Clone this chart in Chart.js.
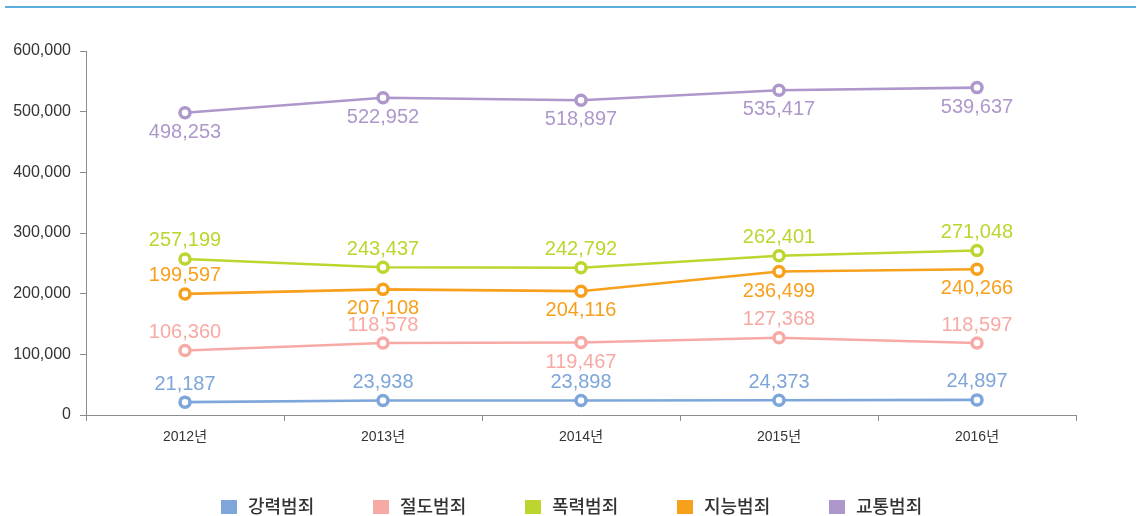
<!DOCTYPE html>
<html><head><meta charset="utf-8">
<script src="https://cdn.jsdelivr.net/npm/chart.js@4"></script>
<style>
html,body{margin:0;padding:0;background:#fff;}
#wrap{position:relative;width:1140px;height:516px;overflow:hidden;}
#topline{position:absolute;left:5px;top:6px;width:1131px;height:2px;background:#5aaee0;}
canvas{position:absolute;left:0;top:0;}
</style>
</head><body>
<div id="wrap"><div id="topline"></div><canvas id="c" width="1140" height="516"></canvas></div>
<script>
// ---- data ----
const categories = ['2012년', '2013년', '2014년', '2015년', '2016년'];
const seriesNames = ['강력범죄', '절도범죄', '폭력범죄', '지능범죄', '교통범죄'];
const violentCrime = [21187, 23938, 23898, 24373, 24897];
const theftCrime = [106360, 118578, 119467, 127368, 118597];
const assaultCrime = [257199, 243437, 242792, 262401, 271048];
const fraudCrime = [199597, 207108, 204116, 236499, 240266];
const trafficCrime = [498253, 522952, 518897, 535417, 539637];
const yTickValues = [0, 100000, 200000, 300000, 400000, 500000, 600000];

// ---- label placement (style) ----
const labelSide = [
  ['up', 'up', 'up', 'up', 'up'],
  ['up', 'up', 'down', 'up', 'up'],
  ['up', 'up', 'up', 'up', 'up'],
  ['up', 'down', 'down', 'down', 'down'],
  ['down', 'down', 'down', 'down', 'down']
];
const colors = ['#7ea6da', '#f7aaa5', '#bdd52e', '#f7a01c', '#ae98cb'];
const seriesData = [violentCrime, theftCrime, assaultCrime, fraudCrime, trafficCrime];

const fmt = v => v.toLocaleString('en-US');

const valueLabels = {
  id: 'valueLabels',
  afterDatasetsDraw(chart) {
    const ctx = chart.ctx;
    ctx.save();
    ctx.font = '20px "Liberation Sans", Arial, sans-serif';
    ctx.textAlign = 'center';
    ctx.textBaseline = 'alphabetic';
    chart.data.datasets.forEach((ds, di) => {
      const meta = chart.getDatasetMeta(di);
      ctx.fillStyle = ds.borderColor;
      meta.data.forEach((pt, i) => {
        const side = labelSide[di][i];
        const y = side === 'up' ? pt.y - 12.5 : pt.y + 25;
        ctx.fillText(fmt(ds.data[i]), pt.x, y);
      });
    });
    ctx.restore();
  }
};

const customLegend = {
  id: 'customLegend',
  afterDraw(chart) {
    const ctx = chart.ctx;
    ctx.save();
    const spacing = 152;
    const startX = chart.width / 2 - 349;
    ctx.font = '500 18px "Noto Sans CJK KR", sans-serif';
    ctx.textBaseline = 'middle';
    ctx.textAlign = 'left';
    chart.data.datasets.forEach((ds, i) => {
      const x = startX + i * spacing;
      ctx.fillStyle = ds.borderColor;
      ctx.fillRect(x, 500, 16, 14);
      ctx.fillStyle = '#333333';
      ctx.fillText(ds.label, x + 27, 506);
    });
    ctx.restore();
  }
};

const datasets = seriesNames.map((name, i) => ({
  label: name,
  data: seriesData[i],
  borderColor: colors[i],
  backgroundColor: colors[i],
  borderWidth: 2.6,
  pointRadius: 5,
  pointHoverRadius: 5,
  pointBorderWidth: 3.5,
  pointBackgroundColor: '#ffffff',
  pointBorderColor: colors[i],
  tension: 0,
  clip: false
}));

new Chart(document.getElementById('c'), {
  type: 'line',
  data: { labels: categories, datasets: datasets },
  options: {
    responsive: false,
    animation: false,
    devicePixelRatio: 1,
    layout: { padding: { left: 0, right: 64, top: 51, bottom: 0 } },
    plugins: { legend: { display: false }, tooltip: { enabled: false } },
    scales: {
      x: {
        type: 'category',
        offset: true,
        grid: { offset: true, drawOnChartArea: false, drawTicks: true, tickLength: 6, color: '#8c8c8c', lineWidth: 1 },
        border: { display: true, color: '#8c8c8c', width: 1 },
        ticks: { color: '#333333', padding: 8, font: { family: '"Liberation Sans", "Noto Sans CJK KR", sans-serif', size: 14 } },
        afterFit(scale) { scale.height = 101; }
      },
      y: {
        min: 0,
        max: 600000,
        afterBuildTicks(scale) { scale.ticks = yTickValues.map(v => ({ value: v })); },
        grid: { drawOnChartArea: false, drawTicks: true, tickLength: 6, color: '#8c8c8c', lineWidth: 1 },
        border: { display: true, color: '#8c8c8c', width: 1 },
        ticks: { color: '#333333', padding: 9, font: { family: '"Liberation Sans", Arial, sans-serif', size: 16 }, callback: v => fmt(v) },
        afterFit(scale) { scale.width = 86; }
      }
    }
  },
  plugins: [valueLabels, customLegend]
});
</script>
</body></html>
